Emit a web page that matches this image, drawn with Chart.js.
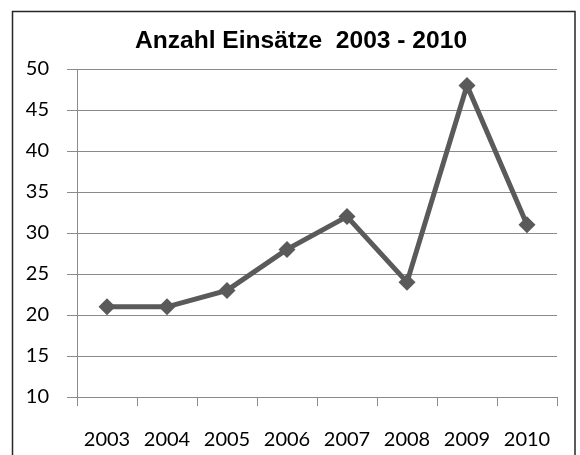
<!DOCTYPE html>
<html>
<head>
<meta charset="utf-8">
<script src="https://cdn.jsdelivr.net/npm/chart.js@4.4.1/dist/chart.umd.min.js"></script>
<style>
    body { margin: 0; background: #fff; }
    #wrap { width: 580px; height: 455px; position: relative; }
</style>
</head>
<body>
<div id="wrap"><canvas id="chartEinsaetze"></canvas></div>
<script>
const jahre = ['2003', '2004', '2005', '2006', '2007', '2008', '2009', '2010'];
const einsaetze = [21, 21, 23, 28, 32, 24, 48, 31];
const yTicks = [10, 15, 20, 25, 30, 35, 40, 45, 50];
const titel = 'Anzahl Einsätze  2003 - 2010';

// frame + title like the excel chart
const rahmenPlugin = {
    id: 'rahmen',
    afterDraw(chart) {
        const ctx = chart.ctx;
        ctx.save();
        ctx.strokeStyle = '#262626';
        ctx.lineWidth = 1.5;
        ctx.strokeRect(12.5, 11.5, 562.5, 470);
        ctx.fillStyle = '#000';
        ctx.font = 'bold 24.6px "Liberation Sans", Arial, sans-serif';
        ctx.textAlign = 'center';
        ctx.textBaseline = 'alphabetic';
        ctx.fillText(titel, 301, 48);
        ctx.restore();
    }
};

const ctx = document.getElementById('chartEinsaetze').getContext('2d');
new Chart(ctx, {
    type: 'line',
    data: {
        labels: jahre,
        datasets: [{
            label: 'Einsätze',
            data: einsaetze,
            borderColor: '#5a5a5a',
            backgroundColor: '#5a5a5a',
            borderWidth: 5,
            tension: 0,
            fill: false,
            pointStyle: 'rectRot',
            pointRadius: 8.5,
            pointHoverRadius: 8.5,
            pointBorderWidth: 0,
            pointBackgroundColor: '#5a5a5a'
        }]
    },
    options: {
        responsive: true,
        maintainAspectRatio: false,
        animation: false,
        layout: { padding: { top: 69, right: 23, left: 0, bottom: 0 } },
        plugins: {
            legend: { display: false },
            title: { display: false },
            tooltip: { enabled: false }
        },
        scales: {
            x: {
                offset: true,
                grid: {
                    offset: true,
                    drawOnChartArea: false,
                    drawTicks: true,
                    tickLength: 9,
                    color: '#8a8a8a'
                },
                border: { color: '#8a8a8a', width: 1 },
                ticks: {
                    color: '#000',
                    padding: 22,
                    maxRotation: 0,
                    font: { family: 'Lato, "Open Sans", sans-serif', size: 20 }
                },
                afterFit(scale) { scale.height = 58; }
            },
            y: {
                min: 10,
                max: 50,
                afterBuildTicks(scale) { scale.ticks = yTicks.map(v => ({ value: v })); },
                grid: {
                    color: '#8a8a8a',
                    tickLength: 10,
                    drawTicks: true
                },
                border: { color: '#8a8a8a', width: 1 },
                ticks: {
                    color: '#000',
                    padding: 18,
                    font: { family: 'Lato, "Open Sans", sans-serif', size: 20 }
                },
                afterFit(scale) { scale.width = 77; }
            }
        }
    },
    plugins: [rahmenPlugin]
});
</script>
</body>
</html>
